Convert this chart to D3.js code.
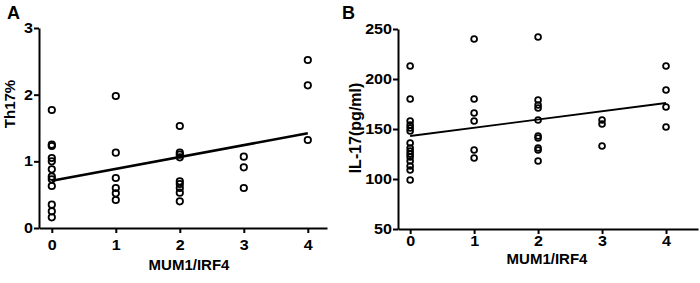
<!DOCTYPE html>
<html>
<head>
<meta charset="utf-8">
<script src="https://cdn.jsdelivr.net/npm/d3@7"></script>
<style>
  body { margin: 0; background: #fff; }
  text { font-family: 'Liberation Sans', Arial, sans-serif; font-weight: bold; fill: #000; }
</style>
</head>
<body>
<div id="chart"></div>
<script>
// MUM1/IRF4 score groups and the values
const levels = [0, 1, 2, 3, 4];
const th17Groups = [
  [1.77, 1.25, 1.23, 1.05, 1.0, 0.88, 0.77, 0.73, 0.63, 0.35, 0.25, 0.16],
  [1.98, 1.13, 0.75, 0.6, 0.52, 0.42],
  [1.53, 1.13, 1.1, 1.06, 0.7, 0.66, 0.6, 0.53, 0.4],
  [1.07, 0.91, 0.6],
  [2.52, 2.14, 1.32],
];
const il17Groups = [
  [213, 180, 158, 154, 151, 148, 136, 131, 128, 125, 122, 118, 113, 109, 99],
  [240, 180, 166, 158, 129, 121],
  [242, 179, 174, 171, 159, 143, 141, 131, 129, 118],
  [159, 155, 133],
  [213, 189, 172, 152],
];
// fitted line, value at MUM1/IRF4 = 0 and = 4
const th17Fit = [0.71, 1.42];
const il17Fit = [143, 176];
const th17Ticks = [0, 1, 2, 3];
const il17Ticks = [50, 100, 150, 200, 250];

const svg = d3.select('#chart').append('svg').attr('width', 700).attr('height', 283);

// tick digits in the figure are drawn wider than normal
const widen = (sel, k) => sel.each(function () {
  const t = d3.select(this);
  const x = +t.attr('x') || 0;
  const y = +t.attr('y') || 0;
  t.attr('x', null).attr('y', null).attr('transform', `translate(${x},${y}) scale(${k},1)`);
});

const makePanel = (p) => {
  const g = svg.append('g');
  const x = d3.scaleLinear().domain(p.xDomain).range(p.xRange);
  const y = d3.scaleLinear().domain(p.yDomain).range(p.yRange);

  const points = p.groups.flatMap((vals, i) => vals.map((v) => ({ level: levels[i], v })));

  const yAxis = g.append('g')
    .attr('transform', `translate(${p.xRange[0]},0)`)
    .call(d3.axisLeft(y).tickValues(p.yTicks).tickFormat(d3.format('d'))
      .tickSize(5).tickSizeOuter(0).tickPadding(p.yPad));
  const xAxis = g.append('g')
    .attr('transform', `translate(0,${p.yRange[0]})`)
    .call(d3.axisBottom(x).tickValues(levels).tickFormat(d3.format('d'))
      .tickSize(5).tickSizeOuter(0).tickPadding(p.xPad));

  [yAxis, xAxis].forEach((a) => {
    a.attr('font-family', null).attr('font-size', null);
    a.select('.domain').attr('stroke', '#000').attr('stroke-width', 2);
    a.selectAll('.tick line').attr('stroke', '#000').attr('stroke-width', 2);
    a.selectAll('.tick text').style('font-size', '14px');
    widen(a.selectAll('.tick text'), 1.15);
  });

  g.append('line')
    .attr('x1', x(levels[0]))
    .attr('x2', x(levels[levels.length - 1]))
    .attr('y1', y(p.fit[0]))
    .attr('y2', y(p.fit[1]))
    .attr('stroke', '#000')
    .attr('stroke-width', p.lineWidth);

  g.selectAll('circle.pt')
    .data(points)
    .join('circle')
    .attr('class', 'pt')
    .attr('cx', (d) => x(d.level))
    .attr('cy', (d) => y(d.v))
    .attr('r', p.r)
    .attr('fill', 'none')
    .attr('stroke', '#000')
    .attr('stroke-width', 1.8);

  g.append('text')
    .attr('x', (p.xRange[0] + p.xRange[1]) / 2 + p.titleShift)
    .attr('y', p.xTitleY)
    .attr('text-anchor', 'middle')
    .style('font-size', '15px')
    .text('MUM1/IRF4');

  g.append('text')
    .attr('transform', `translate(${p.yTitleX},${p.yTitleY}) rotate(-90)`)
    .attr('text-anchor', 'middle')
    .style('font-size', p.yTitleSize)
    .text(p.yTitle);

  g.append('text')
    .attr('x', p.letterX)
    .attr('y', 19)
    .style('font-size', '18px')
    .text(p.letter);
};

makePanel({
  groups: th17Groups,
  fit: th17Fit,
  xDomain: [-0.2, 4.3],
  xRange: [39, 327],
  yDomain: [0, 3],
  yRange: [228, 28],
  yTicks: th17Ticks,
  yPad: 1,
  xPad: 7,
  r: 3.2,
  lineWidth: 2.6,
  titleShift: 6,
  xTitleY: 270,
  yTitle: 'Th17%',
  yTitleX: 15,
  yTitleY: 104,
  yTitleSize: '15px',
  letter: 'A',
  letterX: 7,
});

makePanel({
  groups: il17Groups,
  fit: il17Fit,
  xDomain: [-0.19, 4.5],
  xRange: [398, 698],
  yDomain: [50, 250],
  yRange: [229, 29],
  yTicks: il17Ticks,
  yPad: 1,
  xPad: 2,
  r: 2.9,
  lineWidth: 1.8,
  titleShift: -1,
  xTitleY: 264,
  yTitle: 'IL-17(pg/ml)',
  yTitleX: 361,
  yTitleY: 128,
  yTitleSize: '16px',
  letter: 'B',
  letterX: 342,
});
</script>
</body>
</html>
